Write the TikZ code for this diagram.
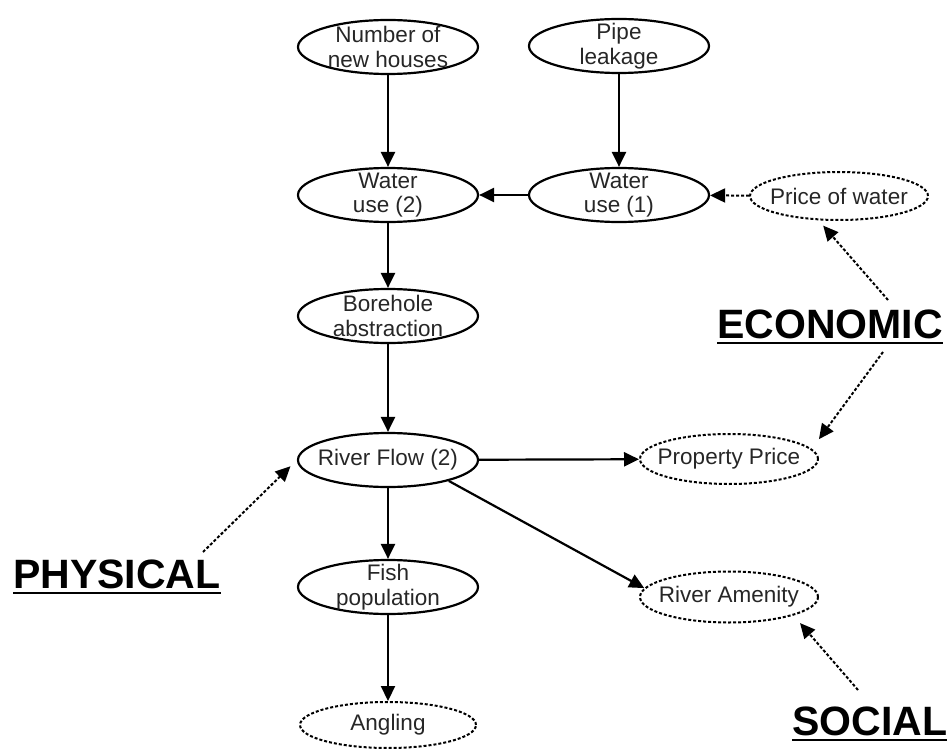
\documentclass[tikz,border=0pt]{standalone}
\usepackage{fontspec}
\setmainfont{Liberation Sans}
\usetikzlibrary{shapes.geometric,arrows.meta}
\begin{document}
\begin{tikzpicture}[x=1pt,y=-1pt,
 ell/.style={ellipse, draw, line width=2.2pt, minimum width=180pt, minimum height=54pt, inner sep=0pt},
 dell/.style={ell, line width=2pt, dash pattern=on 3pt off 2pt},
 txt/.style={font=\fontsize{22.5}{24.5}\selectfont, text=black!85, align=center, inner sep=0pt},
 arr/.style={line width=2.2pt, -{Triangle[length=15pt,width=14pt]}},
 darr/.style={arr, line width=2pt, dash pattern=on 3pt off 2pt},
 big/.style={font=\fontsize{41}{48}\selectfont\bfseries, inner sep=0pt, text depth=0pt},
 uline/.style={line width=2.8pt}
]
\useasboundingbox (0,0) rectangle (948,749);

\node[ell, label={[txt]center:{Number of\\new houses}}] (nh) at (388,47) {};
\node[ell, label={[txt]center:{Pipe\\leakage}}] (pl) at (619,46) {};
\node[ell, label={[txt]center:{Water\\use (2)}}] (wu2) at (388,195) {};
\node[ell, label={[txt]center:{Water\\use (1)}}] (wu1) at (619,195) {};
\node[dell, minimum width=178pt, minimum height=48pt, label={[txt]center:{Price of water}}] (pw) at (839,196) {};
\node[ell, label={[txt]center:{Borehole\\abstraction}}] (bh) at (388,316) {};
\node[ell, label={[txt]center:{River Flow (2)}}] (rf) at (388,460) {};
\node[ell, label={[txt]center:{Fish\\population}}] (fp) at (388,587) {};
\node[dell, minimum width=176pt, minimum height=46pt, label={[txt]center:{Angling}}] (an) at (388,725) {};
\node[dell, minimum width=178pt, minimum height=50pt, label={[txt]center:{Property Price}}] (pp) at (729,459) {};
\node[dell, minimum width=178pt, minimum height=51pt, label={[txt]center:{River Amenity}}] (ra) at (729,597) {};

\node[big, anchor=base west] (eco) at (717,338) {ECONOMIC};
\node[big, anchor=base west] (phy) at (13,588) {PHYSICAL};
\node[big, anchor=base west] (soc) at (792,735) {SOCIAL};
\draw[uline] ([yshift=-5pt]eco.base west) -- ([yshift=-5pt]eco.base east);
\draw[uline] ([yshift=-5pt]phy.base west) -- ([yshift=-5pt]phy.base east);
\draw[uline] ([yshift=-5pt]soc.base west) -- ([yshift=-5pt]soc.base east);

\draw[arr] (nh) -- (wu2);
\draw[arr] (pl) -- (wu1);
\draw[arr] (wu1) -- (wu2);
\draw[darr] (pw) -- (wu1);
\draw[arr] (wu2) -- (bh);
\draw[arr] (bh) -- (rf);
\draw[arr] (rf) -- (fp);
\draw[arr] (fp) -- (an);
\draw[arr] (rf) -- (pp);
\draw[arr] (rf.-19) -- (ra.174);

\coordinate (e1) at (888,300);
\coordinate (e2) at (883,352);
\coordinate (p1) at (203,552);
\coordinate (s1) at (858,690);
\draw[darr, shorten >=7pt] (e1) -- (pw.-130);
\draw[darr, shorten >=12pt] (e2) -- (pp.7);
\draw[darr, shorten >=9pt] (p1) -- (rf.west);
\draw[darr, shorten >=10pt] (s1) -- (ra.-16);
\end{tikzpicture}
\end{document}
